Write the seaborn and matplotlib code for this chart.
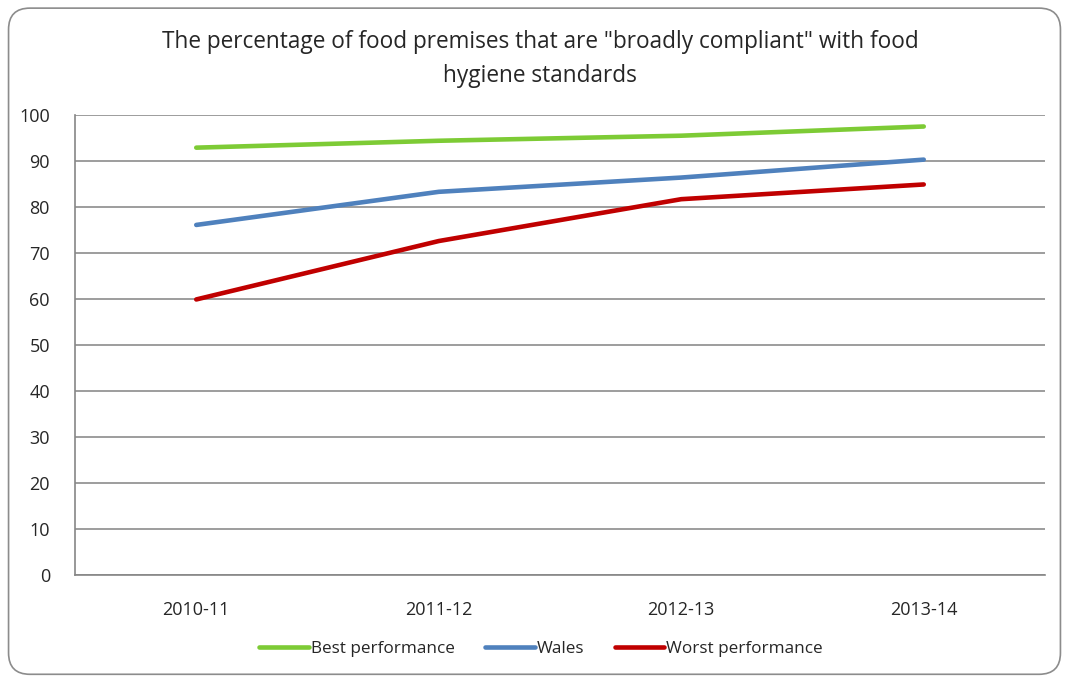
import matplotlib
matplotlib.use("Agg")
import matplotlib.pyplot as plt
import seaborn as sns
import pandas as pd
from matplotlib.patches import FancyBboxPatch

categories = ["2010-11", "2011-12", "2012-13", "2013-14"]
best = [92.9, 94.4, 95.5, 97.5]
wales = [76.1, 83.3, 86.4, 90.3]
worst = [59.9, 72.6, 81.7, 84.9]
series_names = ["Best performance", "Wales", "Worst performance"]
colors = ["#7DCB35", "#4F81BD", "#C00000"]
yticks = [0, 10, 20, 30, 40, 50, 60, 70, 80, 90, 100]
title = 'The percentage of food premises that are "broadly compliant" with food\nhygiene standards'

rows = []
for name, vals in zip(series_names, [best, wales, worst]):
    for c, v in zip(categories, vals):
        rows.append({"Year": c, "Percent": v, "Series": name})
df = pd.DataFrame(rows)

sns.set_style("white")
plt.rcParams["font.family"] = ["Open Sans", "DejaVu Sans"]

fig = plt.figure(figsize=(10.69, 6.77), dpi=100)
border = FancyBboxPatch((0.008, 0.004), 0.984, 0.984, boxstyle="round,pad=0,rounding_size=0.02",
                        transform=fig.transFigure, facecolor="none", edgecolor="#8C8C8C",
                        linewidth=1.2, zorder=-1, mutation_aspect=1069/677)
fig.patches.append(border)

ax = fig.add_axes([75/1069, 1-575/677, (1045-75)/1069, (575-115)/677])
ax.set_facecolor("none")

sns.lineplot(data=df, x="Year", y="Percent", hue="Series", palette=colors,
             hue_order=series_names, sort=False, linewidth=3.3, ax=ax, legend=True)

ax.set_xlim(-0.5, 3.5)
ax.set_ylim(0, 100)
ax.set_yticks(yticks)
ax.set_yticklabels([str(t) for t in yticks], fontsize=13)
ax.set_xticks(range(len(categories)))
ax.set_xticklabels(categories, fontsize=13)
ax.set_xticks([-0.5, 0.5, 1.5, 2.5, 3.5], minor=True)
ax.tick_params(axis="x", which="major", length=0, pad=19)
ax.tick_params(axis="x", which="minor", length=6, color="#868686", width=1)
ax.tick_params(axis="y", length=6, color="#868686", width=1, pad=12)
ax.grid(axis="y", color="#8C8C8C", linewidth=1.2)
ax.set_axisbelow(True)
for s in ["top", "right"]:
    ax.spines[s].set_visible(False)
for s in ["left", "bottom"]:
    ax.spines[s].set_color("#868686")
    ax.spines[s].set_linewidth(1.2)
ax.set_xlabel("")
ax.set_ylabel("")

ax.legend(loc="center", bbox_to_anchor=(541/1069, (677-649)/677), bbox_transform=fig.transFigure,
          ncol=3, frameon=False, fontsize=12.3, handlelength=2.9, handletextpad=0.1,
          columnspacing=1.8)

fig.text(540/1069, 1-59/677, title, ha="center", va="center", fontsize=16.3,
         linespacing=1.5)

fig.savefig("out.png", dpi=100)
